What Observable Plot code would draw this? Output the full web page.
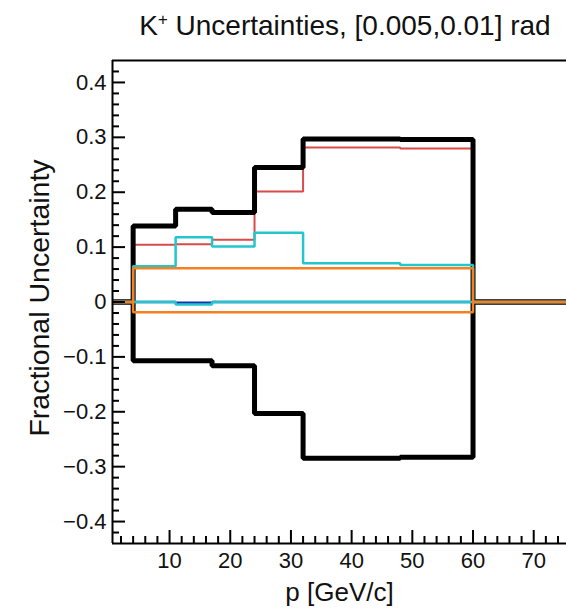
<!DOCTYPE html>
<html><head><meta charset="utf-8">
<script src="https://cdn.jsdelivr.net/npm/d3@7"></script>
<script src="https://cdn.jsdelivr.net/npm/@observablehq/plot@0.6"></script>
<style>
html,body{margin:0;padding:0;background:#fff;overflow:hidden;}
#wrap{position:relative;width:566px;height:608px;overflow:hidden;}
#title{position:absolute;top:9px;left:0;width:690px;text-align:center;font-family:"Liberation Sans",Arial,Helvetica,sans-serif;font-size:28px;color:#111;white-space:nowrap;line-height:1.2;}
#title sup{font-size:60%;vertical-align:0.6em;line-height:0;}
#chart{position:absolute;top:0;left:0;}
</style></head><body>
<div id="wrap"><div id="chart"></div><div id="title">K<sup>+</sup> Uncertainties, [0.005,0.01] rad</div></div>
<script>
// bin edges in p [GeV/c]
const binEdges = [4, 11, 17, 24, 32, 48, 60];
// series values per bin
const totalUp    = [0.1385, 0.169, 0.163, 0.245, 0.297, 0.296];
const totalDown  = [-0.107, -0.107, -0.116, -0.203, -0.2845, -0.283];
const redUp      = [0.1045, 0.105, 0.1136, 0.2015, 0.2815, 0.2797];
const cyanUp     = [0.065, 0.118, 0.101, 0.126, 0.0706, 0.0676];
const cyanDown   = [0, -0.0045, 0, 0, 0, 0];
const blueDown   = [0, -0.0012, 0, 0, 0, 0];
const orangeUp   = [0.0615, 0.0615, 0.0615, 0.0615, 0.0615, 0.0615];
const orangeDown = [-0.0185, -0.0185, -0.0185, -0.0185, -0.0185, -0.0185];
// axes (visible part of the frame)
const xDomain = [0.6, 75.4];
const yDomain = [-0.44, 0.44];
const xTicks = [10, 20, 30, 40, 50, 60, 70];
const xTickLabels = ["10", "20", "30", "40", "50", "60", "70"];
const yTicks = [-0.4, -0.3, -0.2, -0.1, 0, 0.1, 0.2, 0.3, 0.4];
const yTickLabels = ["\u22120.4", "\u22120.3", "\u22120.2", "\u22120.1", "0", "0.1", "0.2", "0.3", "0.4"];
const xMinor = d3.range(2, 76, 2).filter(v => v % 10 !== 0);
const yMinor = d3.range(-42, 43, 2).filter(v => v % 10 !== 0).map(v => v / 100);

const xLabel = new Map(xTicks.map((t, i) => [t, xTickLabels[i]]));
const yLabel = new Map(yTicks.map((t, i) => [t, yTickLabels[i]]));

function hist(values) {
  const pts = [{x: xDomain[0], y: 0}];
  values.forEach((v, i) => pts.push({x: binEdges[i], y: v}));
  pts.push({x: binEdges[binEdges.length - 1], y: 0});
  pts.push({x: xDomain[1], y: 0});
  return pts;
}

const font = "Liberation Sans, Arial, Helvetica, sans-serif";
const lineOpts = (stroke, w) => ({x: "x", y: "y", curve: "step-after", stroke, strokeWidth: w, strokeLinejoin: "miter", strokeLinecap: "butt"});

const chart = Plot.plot({
  width: 566,
  height: 608,
  marginLeft: 112,
  marginRight: 0,
  marginTop: 60,
  marginBottom: 65,
  style: {fontFamily: font, color: "#111", background: "transparent"},
  x: {domain: xDomain},
  y: {domain: yDomain},
  marks: [
    Plot.line(hist(redUp), lineOpts("#d84b4b", 2)),
    Plot.line(hist(totalUp), lineOpts("#000", 5)),
    Plot.line(hist(totalDown), lineOpts("#000", 5)),
    Plot.line(hist(blueDown), lineOpts("#1c2fb3", 2.5)),
    Plot.line(hist(cyanUp), lineOpts("#22c7cc", 2.5)),
    Plot.line(hist(cyanDown), lineOpts("#22c7cc", 2.5)),
    Plot.line(hist(orangeUp), lineOpts("#f5801f", 2.5)),
    Plot.line(hist(orangeDown), lineOpts("#f5801f", 2.5)),
    // frame: left, top, bottom (right side lies outside the picture)
    Plot.ruleX([xDomain[0]], {stroke: "#000", strokeWidth: 2}),
    Plot.ruleY([yDomain[1]], {stroke: "#000", strokeWidth: 2}),
    Plot.ruleY([yDomain[0]], {stroke: "#000", strokeWidth: 2}),
    Plot.axisX({ticks: xTicks, tickSize: -13, strokeWidth: 2, stroke: "#000", fill: "none", label: null}),
    Plot.axisX({ticks: xMinor, tickSize: -7, strokeWidth: 2, stroke: "#000", fill: "none", label: null}),
    Plot.axisX({ticks: xTicks, tickSize: 0, tickPadding: 9, fontSize: 22, tickFormat: d => xLabel.get(d), label: null}),
    Plot.axisY({ticks: yTicks, tickSize: -13, strokeWidth: 2, stroke: "#000", fill: "none", label: null}),
    Plot.axisY({ticks: yMinor, tickSize: -7, strokeWidth: 2, stroke: "#000", fill: "none", label: null}),
    Plot.axisY({ticks: yTicks, tickSize: 0, tickPadding: 6, fontSize: 22, tickFormat: d => yLabel.get(d), label: null}),
    Plot.text(["Fractional Uncertainty"], {frameAnchor: "left", dx: -73, dy: -4, rotate: -90, fontSize: 28.5, textAnchor: "middle", lineAnchor: "middle", fill: "#111"}),
    Plot.text(["p [GeV/c]"], {frameAnchor: "bottom", x: null, dx: 0, dy: 49, fontSize: 26, textAnchor: "middle", lineAnchor: "middle", fill: "#111"})
  ]
});
document.getElementById("chart").appendChild(chart);
</script>
</body></html>
